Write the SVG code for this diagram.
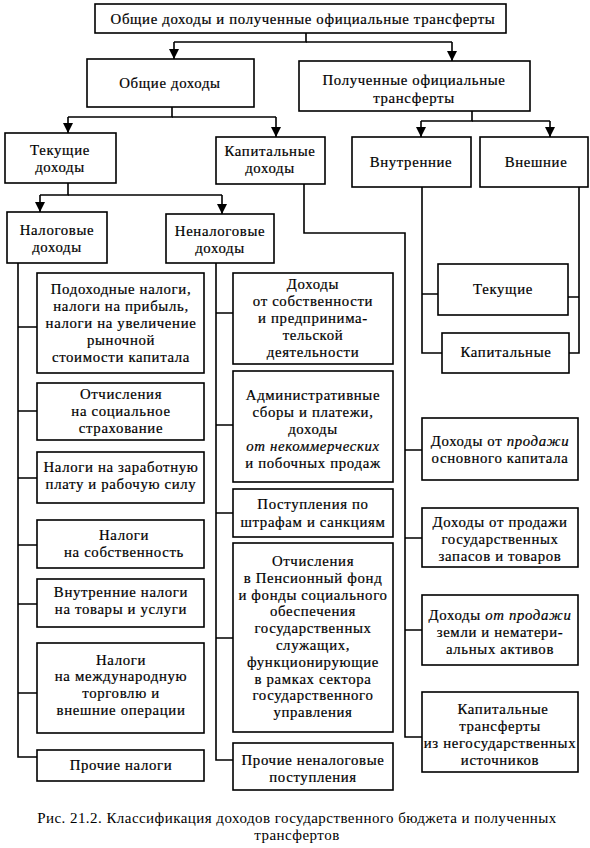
<svg xmlns="http://www.w3.org/2000/svg" width="590" height="848" viewBox="0 0 590 848">
<defs>
<marker id="arr" markerUnits="userSpaceOnUse" markerWidth="10" markerHeight="12" refX="10" refY="5" orient="auto" viewBox="0 0 10 10">
<path d="M0,0 L10,5 L0,10 z" fill="#000"/>
</marker>
<style>
rect{fill:#fff;stroke:#000;stroke-width:1.6}
text{font-family:'Liberation Serif','Times New Roman','DejaVu Serif',serif;font-size:14.8px;letter-spacing:0.65px;fill:#000;stroke:#000;stroke-width:0.2;text-anchor:middle}
.c path{fill:none;stroke:#000;stroke-width:1.6}
.c path.a{marker-end:url(#arr)}
.cap{font-size:15px;letter-spacing:0.45px;stroke-width:0}
.i{font-style:italic}
</style>
</defs>
<rect x="0" y="0" width="590" height="848" style="fill:#fff;stroke:none"/>
<g class="c" id="connectors">
<path d="M306,33 V42 H174"/>
<path class="a" d="M174,42 V59"/>
<path d="M306,42 H452"/>
<path class="a" d="M452,42 V61"/>
<path d="M172,107 V117 H68"/>
<path class="a" d="M68,117 V133"/>
<path d="M172,117 H276"/>
<path class="a" d="M276,117 V137"/>
<path d="M472,111 V121 H421"/>
<path class="a" d="M421,121 V137"/>
<path d="M472,121 H550"/>
<path class="a" d="M550,121 V137"/>
<path d="M68,183 V195 H40"/>
<path class="a" d="M40,195 V212"/>
<path d="M68,195 H222"/>
<path class="a" d="M222,195 V214"/>
<path d="M18,263 V757 H37"/>
<path d="M18,327 H37 M18,411 H37 M18,478 H37 M18,545 H37 M18,604 H37 M18,693 H37"/>
<path d="M216,263 V760 H233"/>
<path d="M216,313 H233 M216,425 H233 M216,513 H233 M216,638 H233"/>
<path d="M304,184 V233 H405 V737 H422"/>
<path d="M405,450 H422 M405,538 H422 M405,630 H422"/>
<path d="M422,187 V353 H442 M422,294 H438"/>
<path d="M579,187 V353 H569 M579,297 H568"/>
</g>
<g id="n-top"><rect x="95" y="4" width="411" height="29"/><text x="303" y="24">Общие доходы и полученные официальные трансферты</text></g>
<g id="n-general"><rect x="87" y="59" width="167" height="48"/><text x="170" y="88">Общие доходы</text></g>
<g id="n-transfers"><rect x="299" y="61" width="231" height="50"/><text x="414" y="85">Полученные официальные</text><text x="414" y="103">трансферты</text></g>
<g id="n-current"><rect x="5" y="133" width="111" height="50"/><text x="60" y="155">Текущие</text><text x="60" y="172">доходы</text></g>
<g id="n-capital"><rect x="216" y="137" width="109" height="47"/><text x="270" y="156">Капитальные</text><text x="270" y="173">доходы</text></g>
<g id="n-internal"><rect x="352" y="137" width="119" height="50"/><text x="411" y="167">Внутренние</text></g>
<g id="n-external"><rect x="480" y="137" width="108" height="50"/><text x="536" y="167">Внешние</text></g>
<g id="n-tax"><rect x="7" y="212" width="100" height="51"/><text x="57" y="235">Налоговые</text><text x="57" y="252">доходы</text></g>
<g id="n-nontax"><rect x="166" y="214" width="108" height="49"/><text x="220" y="236">Неналоговые</text><text x="220" y="253">доходы</text></g>
<g id="n-tr-current"><rect x="438" y="264" width="130" height="51"/><text x="503" y="294">Текущие</text></g>
<g id="n-tr-capital"><rect x="442" y="333" width="127" height="40"/><text x="506" y="357">Капитальные</text></g>
<g id="n-t1"><rect x="37" y="273" width="167" height="100"/><text x="121" y="294">Подоходные налоги,</text><text x="121" y="311">налоги на прибыль,</text><text x="121" y="328">налоги на увеличение</text><text x="121" y="345">рыночной</text><text x="121" y="362">стоимости капитала</text></g>
<g id="n-t2"><rect x="37" y="383" width="167" height="57"/><text x="121" y="399">Отчисления</text><text x="121" y="416">на социальное</text><text x="121" y="433">страхование</text></g>
<g id="n-t3"><rect x="37" y="452" width="167" height="51"/><text x="121" y="472">Налоги на заработную</text><text x="121" y="489">плату и рабочую силу</text></g>
<g id="n-t4"><rect x="37" y="520" width="167" height="48"/><text x="124" y="540">Налоги</text><text x="124" y="557">на собственность</text></g>
<g id="n-t5"><rect x="37" y="579" width="167" height="48"/><text x="121" y="597">Внутренние налоги</text><text x="121" y="614">на товары и услуги</text></g>
<g id="n-t6"><rect x="37" y="643" width="167" height="90"/><text x="121" y="665">Налоги</text><text x="121" y="681">на международную</text><text x="121" y="698">торговлю и</text><text x="121" y="715">внешние операции</text></g>
<g id="n-t7"><rect x="37" y="750" width="167" height="31"/><text x="121" y="770">Прочие налоги</text></g>
<g id="n-n1"><rect x="233" y="273" width="160" height="91"/><text x="313" y="289">Доходы</text><text x="313" y="306">от собственности</text><text x="313" y="323">и предпринима-</text><text x="313" y="340">тельской</text><text x="313" y="357">деятельности</text></g>
<g id="n-n2"><rect x="233" y="371" width="160" height="111"/><text x="313" y="400">Административные</text><text x="313" y="417">сборы и платежи,</text><text x="313" y="434">доходы</text><text x="313" y="451" class="i">от некоммерческих</text><text x="313" y="468">и побочных продаж</text></g>
<g id="n-n3"><rect x="233" y="489" width="160" height="48"/><text x="313" y="509">Поступления по</text><text x="313" y="527">штрафам и санкциям</text></g>
<g id="n-n4"><rect x="233" y="543" width="160" height="189"/><text x="313" y="566">Отчисления</text><text x="313" y="583">в Пенсионный фонд</text><text x="313" y="600">и фонды социального</text><text x="313" y="616">обеспечения</text><text x="313" y="633">государственных</text><text x="313" y="650">служащих,</text><text x="313" y="667">функционирующие</text><text x="313" y="684">в рамках сектора</text><text x="313" y="700">государственного</text><text x="313" y="717">управления</text></g>
<g id="n-n5"><rect x="233" y="743" width="160" height="47"/><text x="313" y="765">Прочие неналоговые</text><text x="313" y="782">поступления</text></g>
<g id="n-c1"><rect x="422" y="418" width="156" height="62"/><text x="500" y="446">Доходы от <tspan class="i">продажи</tspan></text><text x="500" y="463">основного капитала</text></g>
<g id="n-c2"><rect x="422" y="508" width="156" height="59"/><text x="500" y="527">Доходы от продажи</text><text x="500" y="544">государственных</text><text x="500" y="561">запасов и товаров</text></g>
<g id="n-c3"><rect x="422" y="595" width="156" height="70"/><text x="500" y="620">Доходы <tspan class="i">от продажи</tspan></text><text x="500" y="637">земли и нематери-</text><text x="500" y="654">альных  активов</text></g>
<g id="n-c4"><rect x="422" y="692" width="156" height="80"/><text x="503" y="714">Капитальные</text><text x="500" y="731">трансферты</text><text x="500" y="748">из негосударственных</text><text x="500" y="765">источников</text></g>
<g id="caption"><text class="cap" x="297" y="823">Рис. 21.2. Классификация доходов государственного бюджета и полученных</text><text class="cap" x="297" y="840">трансфертов</text></g>
</svg>
